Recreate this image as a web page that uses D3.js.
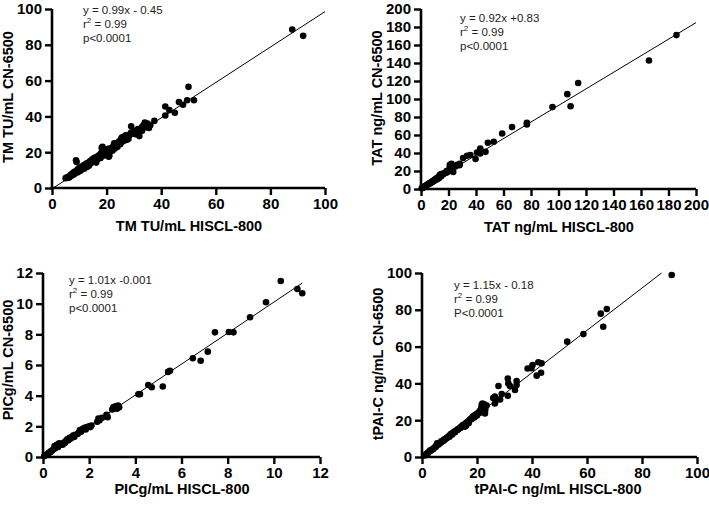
<!DOCTYPE html>
<html>
<head>
<meta charset="utf-8">
<script src="https://cdn.jsdelivr.net/npm/d3@7"></script>
<style>
  html, body { margin: 0; padding: 0; background: #fff; }
  svg { display: block; }
</style>
</head>
<body>
<svg id="chart" width="709" height="505"></svg>
<script>
// ---------------- DATA ----------------
const tmPoints = [[5,5.5],[5.5,6],[6,6.2],[6.3,5.8],[6.5,6.5],[6.8,7],[7,7.5],[7.2,6.8],[7.5,8],[7.8,8.5],[8,7.6],[8,8.3],[8.2,9],[8.5,8.2],[8.8,15.5],[9,14.5],[9,9.5],[9.2,10],[9.5,8.8],[9.5,10.3],[9.8,11],[10,10.5],[10.2,9.6],[10.5,11.5],[10.5,9.8],[10.8,10.8],[11,12],[11.2,11.2],[11.5,12.5],[11.5,11.4],[11.8,10.8],[12,13],[12.2,12],[12.5,13.5],[12.5,12.3],[12.8,11.8],[13,14],[13.2,13],[13.5,12.5],[13.5,13.8],[13.8,14.8],[14,13.6],[14.2,15],[14.5,14.2],[14.5,15.3],[14.8,16],[15,14.8],[15.2,16.5],[15.5,15],[15.5,16.2],[15.8,17],[16,15.8],[16.2,14.2],[16.5,17.5],[16.5,16],[16.8,16.2],[17,18],[17.2,17],[17.5,18.5],[17.5,17.6],[17.8,16.8],[18,19.5],[18.2,22.5],[18.5,23],[18.8,21],[19,20],[19,19],[19.2,18.2],[19.5,21.5],[19.8,20.5],[20,19],[20,21],[20.5,21.8],[20.8,17.5],[21,18.2],[21,22],[21.5,20.5],[22,22.5],[22.2,21],[22.5,23.5],[22.8,25],[23,22],[23,23.5],[23.5,24],[24,23],[24,25],[24.5,26],[25,24.5],[25.2,27],[25.5,28],[25.8,26],[26,28.5],[26,26.2],[26.2,27.5],[26.5,26.5],[27,28],[27,29.5],[27.5,27],[28,29],[28,27.5],[28.5,30],[29,34.5],[29,31],[29.5,30.5],[30,32],[30.5,30],[31,31.5],[31.5,33],[32,29],[32.5,33],[33,32],[33,34],[33.5,35],[34,36.5],[34.5,34],[34.5,35.5],[35,36],[35,34.5],[35.5,33.5],[36,35],[37.5,37.5],[41.5,40.5],[41.5,45.5],[43,43.5],[45,42],[46.5,48],[48,46.5],[49.5,49],[50,56.5],[52,49],[88,88.5],[92,85]];

const tatPoints = [[0.5,0.8],[1,1.2],[1.5,1.5],[2,2.2],[2.5,2.8],[3,3],[3.5,3.6],[4,4.2],[4.5,4.4],[5,5.2],[5.5,5.5],[6,6.3],[6.5,6.2],[7,7],[7.5,7.8],[8,7.6],[8.5,8.5],[9,9.2],[9.5,9],[10,10.2],[10.5,10.8],[11,11.5],[11.5,10.5],[12,12.5],[12.5,13],[13,12],[13.5,15],[14,16],[14.5,14],[15,16.5],[15.5,17],[16,16],[17,17.5],[18,18],[18.6,20],[19,18.5],[20,20.5],[21,24.3],[21,27],[22.2,28],[22.2,22.5],[23.4,19],[25,25],[26.3,27],[28.2,28],[28,26.5],[30.6,34.5],[33.5,37],[35.9,37.7],[39.7,33.3],[40.7,40.5],[43.1,44.9],[43.1,39.4],[46.9,41.3],[48.6,51.4],[52.9,52.5],[59,61.6],[66.2,68.8],[77,71.7],[77,73.5],[95.6,91],[106.4,105.4],[108.8,92],[114.3,117.7],[165.8,142.7],[185.8,171]];

const picPoints = [[0.05,0.05],[0.1,0.12],[0.15,0.15],[0.2,0.2],[0.25,0.28],[0.3,0.3],[0.35,0.38],[0.4,0.42],[0.45,0.5],[0.5,0.55],[0.5,0.72],[0.55,0.6],[0.6,0.8],[0.65,0.65],[0.7,0.9],[0.75,0.78],[0.8,0.85],[0.85,0.8],[0.9,0.95],[0.95,0.92],[1,1.05],[1.05,1.15],[1.1,1.1],[1.15,1.25],[1.2,1.2],[1.25,1.3],[1.3,1.4],[1.35,1.3],[1.4,1.45],[1.5,1.5],[1.55,1.6],[1.6,1.75],[1.65,1.65],[1.7,1.8],[1.75,1.85],[1.8,1.9],[1.85,1.8],[1.9,1.95],[2,2],[2.05,1.95],[2.1,2.05],[2.35,2.3],[2.4,2.5],[2.45,2.4],[2.55,2.55],[2.75,2.75],[2.8,2.6],[3,3.1],[3.05,3.25],[3.1,3.2],[3.15,3.3],[3.2,3.15],[3.25,3.35],[3.3,3.25],[4.13,4.09],[4.2,4.1],[4.56,4.7],[4.71,4.55],[5.19,4.6],[5.42,5.55],[5.5,5.62],[6.49,6.44],[6.83,6.28],[7.14,6.87],[7.45,8.13],[8.05,8.15],[8.25,8.13],[8.97,9.11],[9.66,10.09],[10.3,11.48],[11.02,10.96],[11.23,10.68]];

const tpaiPoints = [[1,0.8],[1.5,1.5],[2,2.2],[2,1.8],[2.5,2.8],[3,3.2],[3,3.6],[3.5,3.8],[4,4.5],[4,4.2],[4.5,5],[5,5.5],[5,6],[5.5,6.5],[5.5,7.5],[6,6.8],[6,7.2],[6.5,7.5],[7,8],[7,8.5],[7.5,8.6],[8,9.5],[8,9],[8.5,9.8],[9,10.5],[9,10.2],[9.5,11],[10,11.6],[10,11],[10.5,12.5],[11,12.8],[11,12.2],[11.5,13.5],[12,14],[12,13.5],[12.5,14.4],[13,15],[13,14.8],[13.5,15.5],[14,16.2],[14,15.8],[14.5,16.8],[15,17.5],[15,17],[15.5,16.5],[16,18.5],[16,17],[16.5,19],[16.5,18.2],[17,19.5],[17,18.5],[17.5,20.5],[18,21],[18,20.5],[18.5,22],[19,22.5],[19,21.5],[19.5,23],[20,23.5],[20,22.5],[20.5,24],[21,25],[21,24],[21.5,26.5],[21.7,28.4],[22,29],[22,26],[22,24.5],[22.6,28.7],[22.9,23.7],[23,27],[23,25.5],[23.5,28],[25.9,32],[26.5,32.9],[26.5,29.1],[27,31],[27.8,38.6],[28.4,31.3],[29,34.2],[31.2,42.7],[31.2,33.3],[31.4,40],[32,38.6],[33.8,36.4],[34.4,41.3],[34.4,39.1],[38.4,48.1],[39.8,48.3],[40.2,50],[41.7,44.2],[42.3,51.5],[43.3,45.8],[43.5,50.9],[52.8,62.7],[58.7,66.8],[65,77.9],[65.9,70.8],[67.2,80.4],[90.8,98.9]];

const xTitles = ["TM TU/mL HISCL-800", "TAT ng/mL HISCL-800", "PICg/mL HISCL-800", "tPAI-C ng/mL HISCL-800"];
const yTitles = ["TM TU/mL CN-6500", "TAT ng/mL CN-6500", "PICg/mL CN-6500", "tPAI-C ng/mL CN-6500"];
const axisMax = [100, 200, 12, 100];
const tickStep = [20, 20, 2, 20];
const equations = ["y = 0.99x - 0.45", "y = 0.92x +0.83", "y = 1.01x -0.001", "y = 1.15x - 0.18"];
const pLabels = ["p<0.0001", "p<0.0001", "p<0.0001", "P<0.0001"];
const slopes = [0.99, 0.92, 1.01, 1.15];
const intercepts = [-0.45, 0.83, -0.001, -0.18];
const fitXStart = [0.45, 0, 0, 0.16];
const fitXEnd = [100, 200, 11.23, 87.1];

// ---------------- LAYOUT ----------------
const panels = [
  { pts: tmPoints,  x0: 52,  x1: 325, y0: 188, y1: 9,   xt: 189, xtY: 226, yt: 8,   ytY: 97,  ax: 83,  ay: 14 },
  { pts: tatPoints, x0: 421, x1: 696, y0: 189, y1: 9,   xt: 559, xtY: 227, yt: 377, ytY: 98,  ax: 460, ay: 22 },
  { pts: picPoints, x0: 43,  x1: 320, y0: 457, y1: 273, xt: 182, xtY: 489, yt: 8,   ytY: 360, ax: 69,  ay: 284 },
  { pts: tpaiPoints,x0: 422, x1: 697, y0: 457, y1: 273, xt: 558, xtY: 489, yt: 378, ytY: 364, ax: 454, ay: 289 }
];

const svg = d3.select("#chart");
const FONT = "'Liberation Sans', Arial, Helvetica, sans-serif";

panels.forEach((p, i) => {
  const g = svg.append("g");
  const x = d3.scaleLinear().domain([0, axisMax[i]]).range([p.x0, p.x1]);
  const y = d3.scaleLinear().domain([0, axisMax[i]]).range([p.y0, p.y1]);
  const ticks = d3.range(0, axisMax[i] + tickStep[i] / 2, tickStep[i]);

  // regression line
  const xa = fitXStart[i], xb = fitXEnd[i];
  g.append("line")
    .attr("x1", x(xa)).attr("y1", y(Math.max(0, slopes[i] * xa + intercepts[i])))
    .attr("x2", x(xb)).attr("y2", y(slopes[i] * xb + intercepts[i]))
    .attr("stroke", "#000").attr("stroke-width", 1);

  // points
  g.append("g").selectAll("circle").data(p.pts).join("circle")
    .attr("cx", d => x(d[0])).attr("cy", d => y(d[1]))
    .attr("r", 3.3).attr("fill", "#000");

  // axes
  const xAxis = g.append("g").attr("transform", `translate(0,${p.y0})`)
    .call(d3.axisBottom(x).tickValues(ticks).tickFormat(d3.format("d")).tickSizeOuter(0).tickSize(7).tickPadding(3));
  const yAxis = g.append("g").attr("transform", `translate(${p.x0},0)`)
    .call(d3.axisLeft(y).tickValues(ticks).tickFormat(d3.format("d")).tickSizeOuter(0).tickSize(7).tickPadding(3));
  [xAxis, yAxis].forEach(a => {
    a.select(".domain").attr("stroke", "#000").attr("stroke-width", 2.6);
    a.selectAll(".tick line").attr("stroke", "#000").attr("stroke-width", 2.4);
    a.selectAll(".tick text").attr("fill", "#000")
      .style("font-family", FONT).style("font-weight", "bold").style("font-size", "15px");
  });
  xAxis.select(".domain").attr("d", `M${p.x0 - 1.3},0H${p.x1}`);
  yAxis.select(".domain").attr("d", `M0,${p.y0 + 1.3}V${p.y1}`);

  // axis titles
  g.append("text").attr("x", p.xt).attr("y", p.xtY)
    .attr("text-anchor", "middle").attr("dominant-baseline", "central")
    .style("font-family", FONT).style("font-weight", "bold").style("font-size", "14.5px")
    .attr("fill", "#000").text(xTitles[i]);
  g.append("text")
    .attr("transform", `translate(${p.yt},${p.ytY}) rotate(-90)`)
    .attr("text-anchor", "middle").attr("dominant-baseline", "central")
    .style("font-family", FONT).style("font-weight", "bold").style("font-size", "14.5px")
    .attr("fill", "#000").text(yTitles[i]);

  // annotation
  const ann = g.append("g").style("font-family", FONT).style("font-size", "11.5px").attr("fill", "#222");
  ann.append("text").attr("x", p.ax).attr("y", p.ay).text(equations[i]);
  const r2 = ann.append("text").attr("x", p.ax).attr("y", p.ay + 14);
  r2.append("tspan").text("r");
  r2.append("tspan").attr("dy", -5).style("font-size", "8px").text("2");
  r2.append("tspan").attr("dy", 5).text(" = 0.99");
  ann.append("text").attr("x", p.ax).attr("y", p.ay + 27.5).text(pLabels[i]);
});
</script>
</body>
</html>
